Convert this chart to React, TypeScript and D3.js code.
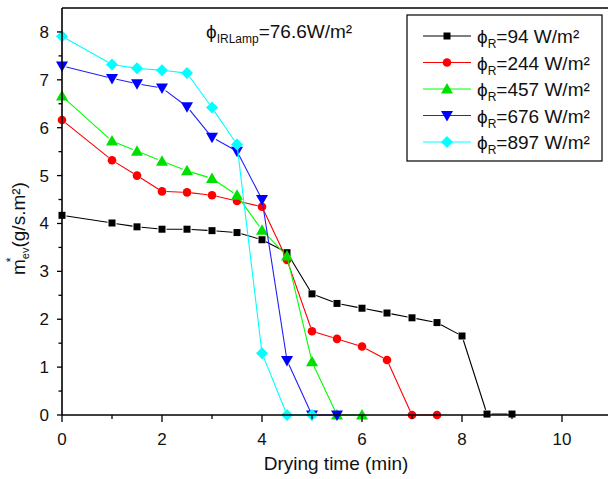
import React from "react";
import * as d3 from "d3";

const xTicks = [0, 2, 4, 6, 8, 10];
const yTicks = [0, 1, 2, 3, 4, 5, 6, 7, 8];

const t94 = [0, 1, 1.5, 2, 2.5, 3, 3.5, 4, 4.5, 5, 5.5, 6, 6.5, 7, 7.5, 8, 8.5, 9];
const v94 = [4.17, 4.01, 3.93, 3.88, 3.88, 3.85, 3.81, 3.66, 3.39, 2.53, 2.33, 2.23, 2.13, 2.03, 1.93, 1.65, 0.02, 0.02];
const t244 = [0, 1, 1.5, 2, 2.5, 3, 3.5, 4, 4.5, 5, 5.5, 6, 6.5, 7, 7.5];
const v244 = [6.16, 5.32, 5.0, 4.67, 4.65, 4.59, 4.47, 4.35, 3.24, 1.75, 1.59, 1.43, 1.15, 0, 0];
const t457 = [0, 1, 1.5, 2, 2.5, 3, 3.5, 4, 4.5, 5, 5.5, 6];
const v457 = [6.66, 5.72, 5.51, 5.3, 5.1, 4.94, 4.59, 3.86, 3.32, 1.11, 0, 0];
const t676 = [0, 1, 1.5, 2, 2.5, 3, 3.5, 4, 4.5, 5, 5.5];
const v676 = [7.29, 7.03, 6.92, 6.83, 6.44, 5.8, 5.51, 4.5, 1.14, 0, 0];
const t897 = [0, 1, 1.5, 2, 2.5, 3, 3.5, 4, 4.5, 5];
const v897 = [7.91, 7.32, 7.24, 7.2, 7.14, 6.42, 5.65, 1.29, 0, 0];

const seriesNames = ["94", "244", "457", "676", "897"];
const seriesT = [t94, t244, t457, t676, t897];
const seriesV = [v94, v244, v457, v676, v897];
const colors = ["#000000", "#ff0000", "#00e000", "#0000ff", "#00ffff"];
const lineColors = ["#000000", "#ff0000", "#00ff00", "#2020ff", "#00ffff"];
const shapes = ["square", "circle", "triUp", "triDown", "diamond"];

const FONT = "'Liberation Sans', Arial, sans-serif";
const PHI = "\u03D5";

const x = d3.scaleLinear().domain([0, 11]).range([62, 612]);
const y = d3.scaleLinear().domain([0, 8.5]).range([415, 8]);

function Marker({ shape, cx, cy, color }: { shape: string; cx: number; cy: number; color: string }) {
  if (shape === "square") return <rect x={cx - 3.5} y={cy - 3.5} width={7} height={7} fill={color} />;
  if (shape === "circle") return <circle cx={cx} cy={cy} r={4.3} fill={color} />;
  if (shape === "triUp")
    return <path d={`M${cx},${cy - 6}L${cx + 6},${cy + 4.5}L${cx - 6},${cy + 4.5}Z`} fill={color} />;
  if (shape === "triDown")
    return <path d={`M${cx},${cy + 6}L${cx + 6},${cy - 4.5}L${cx - 6},${cy - 4.5}Z`} fill={color} />;
  return <path d={`M${cx},${cy - 6}L${cx + 6},${cy}L${cx},${cy + 6}L${cx - 6},${cy}Z`} fill={color} />;
}

function segments(ts: number[], vs: number[], gap: number) {
  const segs: string[] = [];
  for (let i = 0; i < ts.length - 1; i++) {
    const x1 = x(ts[i]), y1 = y(vs[i]), x2 = x(ts[i + 1]), y2 = y(vs[i + 1]);
    const dx = x2 - x1, dy = y2 - y1;
    const len = Math.sqrt(dx * dx + dy * dy);
    if (len <= 2 * gap) continue;
    const ux = dx / len, uy = dy / len;
    segs.push(`M${x1 + ux * gap},${y1 + uy * gap}L${x2 - ux * gap},${y2 - uy * gap}`);
  }
  return segs.join("");
}

export default function App() {
  const xMinor = d3.range(1, 12, 2);
  const yMinor = d3.range(0.5, 8.5, 1);
  return (
    <svg width={608} height={479} style={{ position: "absolute", left: 0, top: 0, background: "#fff" }} fontFamily={FONT}>
      <rect width={608} height={479} fill="#fff" />
      {/* series */}
      {seriesT.map((ts, si) => (
        <g key={si}>
          <path d={segments(ts, seriesV[si], 4.5)} stroke={lineColors[si]} strokeWidth={1.1} fill="none" />
          {ts.map((t, i) => (
            <Marker key={i} shape={shapes[si]} cx={x(t)} cy={y(seriesV[si][i])} color={colors[si]} />
          ))}
        </g>
      ))}
      {/* axes */}
      <line x1={62} y1={415} x2={612} y2={415} stroke="#000" strokeWidth={1.6} />
      <line x1={62} y1={8} x2={62} y2={415} stroke="#000" strokeWidth={1.6} />
      <line x1={62} y1={8} x2={612} y2={8} stroke="#000" strokeWidth={1.6} />
      {xTicks.map((t) => (
        <g key={t}>
          <line x1={x(t)} y1={415} x2={x(t)} y2={422} stroke="#000" strokeWidth={1.3} />
          <text x={x(t)} y={445} fontSize={17} textAnchor="middle" fill="#111">{t}</text>
        </g>
      ))}
      {xMinor.map((t) => (
        <line key={t} x1={x(t)} y1={415} x2={x(t)} y2={419} stroke="#000" strokeWidth={1.3} />
      ))}
      {yTicks.map((t) => (
        <g key={t}>
          <line x1={57} y1={y(t)} x2={62} y2={y(t)} stroke="#000" strokeWidth={1.3} />
          <text x={49} y={y(t) + 6} fontSize={17} textAnchor="end" fill="#111">{t}</text>
        </g>
      ))}
      {yMinor.map((t) => (
        <line key={t} x1={58.5} y1={y(t)} x2={62} y2={y(t)} stroke="#000" strokeWidth={1.3} />
      ))}
      {/* axis labels */}
      <text x={336} y={470} fontSize={19} textAnchor="middle" fill="#111">Drying time (min)</text>
      <g transform="translate(25,226) rotate(-90)">
        <text x={-49} y={0} fontSize={19} textAnchor="start" fill="#111">
          m<tspan fontSize={11} dy={4}>ev</tspan>
          <tspan dy={-4}>(g/s.m²)</tspan>
        </text>
        <text x={-34} y={-10} fontSize={12} textAnchor="middle" fill="#111">*</text>
      </g>
      {/* annotation */}
      <text x={206} y={38} fontSize={19} fill="#111">
        {PHI}<tspan fontSize={12} dy={5}>IRLamp</tspan>
        <tspan dy={-5}>=76.6W/m²</tspan>
      </text>
      {/* legend */}
      <rect x={407} y={15} width={195} height={146} fill="#fff" stroke="#000" strokeWidth={1.2} />
      {seriesNames.map((n, i) => {
        const ly = 36 + i * 26.5;
        return (
          <g key={n}>
            <line x1={423} y1={ly} x2={471} y2={ly} stroke={lineColors[i]} strokeWidth={1.1} />
            <Marker shape={shapes[i]} cx={447} cy={ly} color={colors[i]} />
            <text x={477} y={ly + 7} fontSize={19} fill="#111">
              {PHI}<tspan fontSize={12} dy={5}>R</tspan>
              <tspan dy={-5}>={n} W/m²</tspan>
            </text>
          </g>
        );
      })}
    </svg>
  );
}
